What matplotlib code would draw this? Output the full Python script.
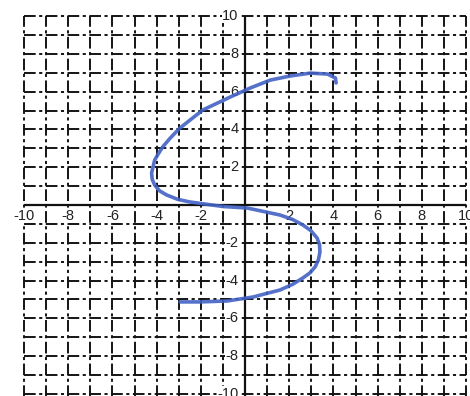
import matplotlib
matplotlib.use("Agg")
import matplotlib.pyplot as plt

# Hand-drawn S-shaped curve on graph paper (from the top hook to the bottom end)
curve_x = [4.12, 4.09, 3.73, 2.95, 2.05, 1.14, 0.23, -0.68, -1.91, -2.95,
           -3.38, -3.73, -3.93, -4.09, -4.23, -4.20, -4.09, -3.87, -3.55,
           -3.05, -2.50, -1.00, 0.10, 1.58, 2.14, 2.62, 2.98, 3.26, 3.37,
           3.39, 3.32, 3.17, 2.93, 2.62, 2.15, 1.58, 0.36, -0.81, -2.04, -2.94]
curve_y = [6.46, 6.72, 6.93, 6.98, 6.83, 6.61, 6.19, 5.71, 5.03, 4.07,
           3.55, 3.07, 2.70, 2.38, 1.69, 1.35, 1.06, 0.75, 0.53,
           0.30, 0.16, -0.08, -0.16, -0.53, -0.76, -1.06, -1.36, -1.75, -2.10,
           -2.49, -2.90, -3.28, -3.60, -3.86, -4.20, -4.50, -4.87, -5.08, -5.13, -5.13]

grid_units = list(range(-10, 11))
x_labels = [-10, -8, -6, -4, -2, 2, 4, 6, 8, 10]
y_labels = [10, 8, 6, 4, 2, -2, -4, -6, -8, -10]

fig = plt.figure(figsize=(4.70, 3.96), dpi=100)
ax = fig.add_axes([0, 0, 1, 1])
ax.set_xlim(-11.09, 10.18)
ax.set_ylim(-10.11, 10.85)
ax.axis("off")

# Graph-paper grid: broken dash lines at every unit
dash = (0, (6, 1.8, 1.6, 1.8))
ax.vlines([g for g in grid_units if g != 0], -10.5, 10, colors="#141414",
          linestyles=[dash], linewidth=1.4, zorder=1)
ax.hlines([g for g in grid_units if g != 0], -10, 10, colors="#141414",
          linestyles=[dash], linewidth=1.4, zorder=1)

# Solid coordinate axes
ax.vlines([0], -10.5, 10, colors="#111111", linewidth=1.6, zorder=2)
ax.hlines([0], -10, 10, colors="#111111", linewidth=1.6, zorder=2)

# Axis numbers
for v in x_labels:
    ax.text(v, -0.2, f"{v}", ha="center", va="top", fontsize=10.5,
            color="#222222", family="Liberation Sans", zorder=3,
            bbox=dict(facecolor="white", edgecolor="none", pad=0.3))
for v in y_labels:
    ax.text(-0.3, v, f"{v}", ha="right", va="center", fontsize=10.5,
            color="#222222", family="Liberation Sans", zorder=3,
            bbox=dict(facecolor="white", edgecolor="none", pad=0.3))

# The drawn curve
ax.plot(curve_x, curve_y, color="#4262c4", linewidth=2.6, alpha=0.9,
        solid_joinstyle="round", solid_capstyle="round", zorder=4)

fig.savefig("out.png", dpi=100, facecolor="white")
